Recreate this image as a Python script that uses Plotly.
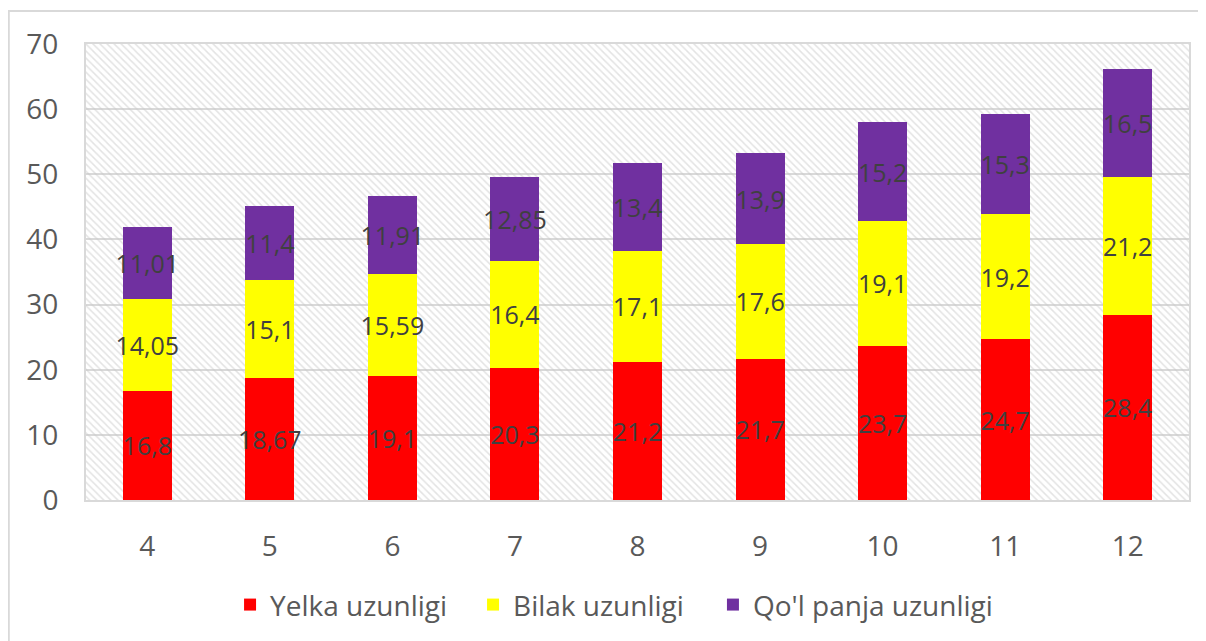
"""
Stacked bar chart of arm segment lengths by age.
"""

import plotly.graph_objects as go

AGES = ["4", "5", "6", "7", "8", "9", "10", "11", "12"]
YELKA = [16.8, 18.67, 19.1, 20.3, 21.2, 21.7, 23.7, 24.7, 28.4]
BILAK = [14.05, 15.1, 15.59, 16.4, 17.1, 17.6, 19.1, 19.2, 21.2]
PANJA = [11.01, 11.4, 11.91, 12.85, 13.4, 13.9, 15.2, 15.3, 16.5]

SERIES = [
    ("Yelka uzunligi", YELKA, "#FF0000"),
    ("Bilak uzunligi", BILAK, "#FFFF00"),
    ("Qo'l panja uzunligi", PANJA, "#7030A0"),
]

# one legend box per series so the spacing matches the source
LEGEND_IDS = ["legend", "legend2", "legend3"]
LEGEND_X = [0.1306, 0.3509, 0.5684]

Y_MAX = 70
FONT = "Open Sans"
LABEL_COLOR = "#404040"
TICK_COLOR = "#595959"
GRID_COLOR = "#d9d9d9"


def fmt(v):
    # comma as decimal separator, like the source
    return f"{v:g}".replace(".", ",")


fig = go.Figure()

# hatched plot background, drawn on the hidden base axis
fig.add_trace(
    go.Bar(
        x=[0.5],
        y=[Y_MAX],
        width=1,
        xaxis="x",
        yaxis="y",
        marker={
            "color": "rgba(0,0,0,0)",
            "line": {"width": 0},
            "pattern": {
                "shape": "\\",
                "fgcolor": "#c8c8c8",
                "bgcolor": "rgba(0,0,0,0)",
                "size": 5,
                "solidity": 0.3,
            },
        },
        hoverinfo="skip",
        showlegend=False,
    )
)

for (name, values, color), legend_id in zip(SERIES, LEGEND_IDS):
    fig.add_trace(
        go.Bar(
            x=AGES,
            y=values,
            name=name,
            legend=legend_id,
            xaxis="x2",
            yaxis="y",
            marker={"color": color, "line": {"width": 0}},
            text=[fmt(v) for v in values],
            textposition="inside",
            insidetextanchor="middle",
            textangle=0,
            constraintext="none",
            textfont={"family": FONT, "size": 25, "color": LABEL_COLOR},
        )
    )

legend_style = {
    "orientation": "h",
    "xanchor": "left",
    "y": -0.23,
    "yanchor": "middle",
    "font": {"size": 28, "color": TICK_COLOR},
    "itemwidth": 30,
    "bgcolor": "rgba(0,0,0,0)",
}

fig.update_layout(
    width=1206,
    height=641,
    barmode="stack",
    bargap=0.6,
    paper_bgcolor="white",
    plot_bgcolor="rgba(0,0,0,0)",
    font={"family": FONT, "color": TICK_COLOR},
    # page body adds 8px, so margins are shifted by that amount
    margin={"l": 78, "r": 25, "t": 36, "b": 149, "autoexpand": False},
    xaxis={
        "range": [0, 1],
        "visible": False,
        "fixedrange": True,
    },
    xaxis2={
        "overlaying": "x",
        "type": "category",
        "showgrid": False,
        "showline": True,
        "linecolor": GRID_COLOR,
        "linewidth": 2,
        "mirror": True,
        "ticks": "",
        "automargin": False,
        "ticklabelstandoff": 20,
        "tickfont": {"size": 28, "color": TICK_COLOR},
    },
    yaxis={
        "range": [0, Y_MAX],
        "dtick": 10,
        "showgrid": True,
        "gridcolor": GRID_COLOR,
        "gridwidth": 2,
        "showline": True,
        "linecolor": GRID_COLOR,
        "linewidth": 2,
        "mirror": True,
        "zeroline": False,
        "ticks": "",
        "automargin": False,
        "ticklabelstandoff": 20,
        "tickfont": {"size": 28, "color": TICK_COLOR},
    },
    shapes=[
        # outer chart frame
        {
            "type": "rect",
            "xref": "paper",
            "yref": "paper",
            "x0": -0.07,
            "x1": 1.03,
            "y0": -0.32,
            "y1": 1.0724,
            "line": {"color": GRID_COLOR, "width": 2},
            "layer": "below",
        }
    ],
)

for legend_id, lx in zip(LEGEND_IDS, LEGEND_X):
    fig.update_layout({legend_id: dict(legend_style, x=lx)})

fig.write_html("out.html")
